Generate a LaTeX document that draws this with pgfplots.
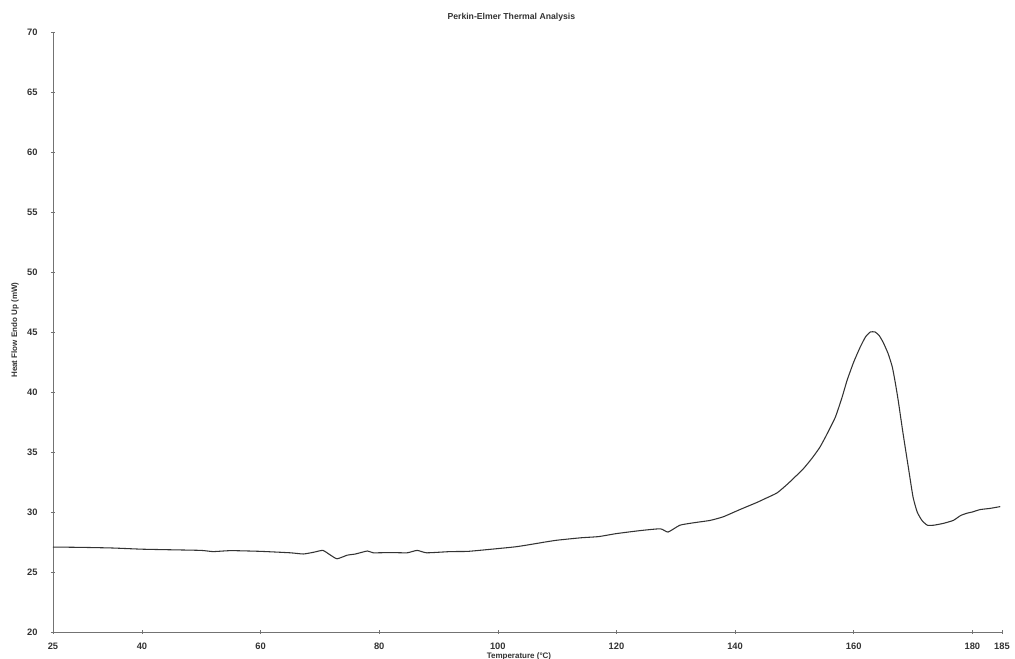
\documentclass[border=0pt]{standalone}
\usepackage{fontspec}
\setmainfont{Liberation Sans}
\usepackage{pgfplots}
\pgfplotsset{compat=1.18}
\begin{document}
\begin{tikzpicture}
\path[use as bounding box] (-39.75pt,-20.25pt) rectangle (721.5pt,474pt);
\begin{axis}[
  scale only axis,
  width=711.75pt, height=450pt,
  xmin=25, xmax=185, ymin=20, ymax=70,
  axis lines=left,
  axis line style={-, draw=black!55, line width=0.6pt},
  xtick={25,40,60,80,100,120,140,160,180,185},
  ytick={20,25,30,35,40,45,50,55,60,65,70},
  major tick length=3pt,
  tick align=center,
  tick style={draw=black!55, line width=0.5pt},
  /pgf/number format/assume math mode=true,
  ticklabel style={font=\fontsize{7}{8}\selectfont\bfseries, text=black!80},
  xticklabel style={yshift=-3pt},
  yticklabel style={xshift=-6.5pt},
  title={Perkin-Elmer Thermal Analysis},
  title style={at={(axis description cs:0.483,1.011)}, anchor=center, font=\fontsize{6.5}{7}\selectfont\bfseries, text=black!80},
  xlabel={Temperature (°C)},
  xlabel style={at={(axis description cs:0.491,-0.04)}, anchor=center, font=\fontsize{6}{7}\selectfont\bfseries, text=black!80},
  ylabel={Heat Flow Endo Up (mW)},
  ylabel style={at={(axis description cs:-0.04,0.503)}, anchor=center, rotate=0, font=\fontsize{6}{7}\selectfont\bfseries, text=black!80},
  clip=false,
]
\addplot[draw=black!80, line width=0.8pt, smooth, tension=0.3] coordinates {
(25,27.08) (30,27.05) (35,27.0) (40,26.9) (45,26.85) (50,26.8) (52,26.7) (55,26.78)
(60,26.72) (65,26.6) (67.2,26.5) (69,26.65) (70.5,26.8) (71.8,26.4) (72.9,26.1)
(74.6,26.4) (76,26.5) (78,26.75) (79,26.6) (82,26.62) (84.7,26.6) (86.4,26.8)
(88,26.6) (92,26.7) (95,26.72) (100,26.95) (103,27.1) (105,27.25) (108,27.5)
(110,27.65) (114,27.85) (117,27.95) (120,28.2) (124,28.45) (127.4,28.6) (128.7,28.33)
(130.7,28.9) (133,29.1) (135.8,29.3) (138,29.6) (140.8,30.2) (143.7,30.8) (145,31.1)
(147.1,31.6) (149,32.4) (151.5,33.6) (153,34.5) (154.3,35.4) (155.5,36.5) (156.9,37.9)
(158,39.5) (158.9,41) (160,42.5) (161.1,43.75) (162,44.6) (162.8,45.0) (163.6,45.0)
(164.3,44.7) (165.0,44.1) (165.8,43.2) (166.5,42.1) (167.0,40.8) (167.5,39.3)
(168.3,36.6) (169.2,33.75) (170.0,31.25) (170.7,30.0) (171.5,29.3) (172.4,28.9)
(173.5,28.9) (175.1,29.05) (176.8,29.3) (178,29.7) (179.1,29.9) (180,30.0)
(181.3,30.2) (183,30.3) (184.7,30.45)
};
\end{axis}
\end{tikzpicture}
\end{document}
